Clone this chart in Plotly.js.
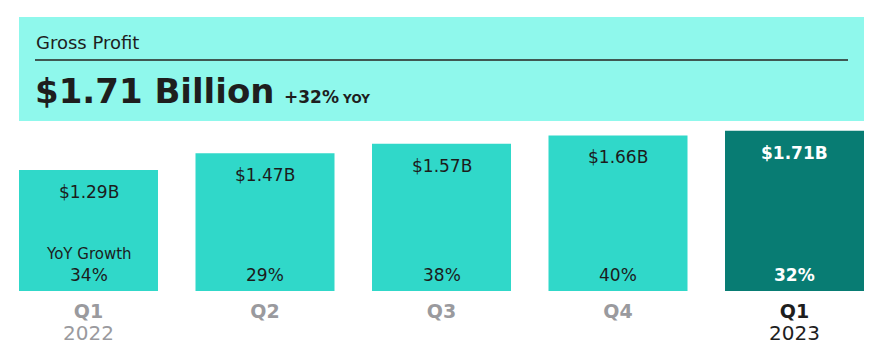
<!DOCTYPE html>
<html>
<head>
<meta charset="utf-8">
<script src="https://cdn.plot.ly/plotly-3.0.1.min.js"></script>
<style>html,body{margin:0;padding:0;background:#fff;}#chart{width:880px;height:362px;}</style>
</head>
<body>
<div id="chart"></div>
<script>
// ---- data ----
var categories = ["Q1 2022", "Q2 2022", "Q3 2022", "Q4 2022", "Q1 2023"];
var quarterLabels = ["Q1", "Q2", "Q3", "Q4", "Q1"];
var yearLabels = ["2022", "", "", "", "2023"];
var grossProfit = [1.29, 1.47, 1.57, 1.66, 1.71];   // $ billions
var yoyGrowth = [34, 29, 38, 40, 32];               // %
var headerTitle = "Gross Profit";
var growthLabel = "YoY Growth";

// ---- layout helpers (pixel -> paper) ----
var W = 880, H = 362;
var mL = 19, mR = 16, mT = 127, mB = 71;
var plotW = W - mL - mR, plotH = H - mT - mB;
function px(x) { return (x - mL) / plotW; }
function py(y) { return (H - mB - y) / plotH; }

var last = grossProfit.length - 1;
var light = "#30D8C9", dark = "#087C73";
var font = "DejaVu Sans, Verdana, sans-serif";

var colors = grossProfit.map(function (v, i) { return i === last ? dark : light; });

var trace = {
  type: "bar",
  x: categories,
  y: grossProfit,
  marker: { color: colors, line: { width: 0 } },
  hoverinfo: "skip"
};

var ticktext = categories.map(function (c, i) {
  var col = i === last ? "#1e1e1e" : "#9a9a9e";
  var t = "<span style='color:" + col + "'><b><span style='font-size:19px'>" + quarterLabels[i] + "</span></b>";
  if (yearLabels[i]) t += "<br><span style='font-size:20px'>" + yearLabels[i] + "</span>";
  return t + "</span>";
});

var annotations = [];
grossProfit.forEach(function (v, i) {
  var isLast = i === last;
  annotations.push({
    xref: "x", yref: "y", x: categories[i], y: v,
    text: isLast ? "<b>$" + v.toFixed(2) + "B</b>" : "$" + v.toFixed(2) + "B",
    showarrow: false, yanchor: "middle", yshift: -22,
    font: { family: font, size: 17, color: isLast ? "#ffffff" : "#1c1c1c" }
  });
  annotations.push({
    xref: "x", yref: "y", x: categories[i], y: 0,
    text: isLast ? "<b>" + yoyGrowth[i] + "%</b>" : yoyGrowth[i] + "%",
    showarrow: false, yanchor: "middle", yshift: 16,
    font: { family: font, size: 17, color: isLast ? "#ffffff" : "#1c1c1c" }
  });
});
annotations.push({
  xref: "x", yref: "y", x: categories[0], y: 0,
  text: growthLabel, showarrow: false, yanchor: "middle", yshift: 37,
  font: { family: font, size: 15, color: "#1c1c1c" }
});
// header texts
annotations.push({
  xref: "paper", yref: "paper", x: px(34), y: py(42.5),
  xanchor: "left", yanchor: "middle", showarrow: false,
  text: headerTitle,
  font: { family: font, size: 18, color: "#1e1e1e" }
});
annotations.push({
  xref: "paper", yref: "paper", x: px(33), y: py(91),
  xanchor: "left", yanchor: "middle", showarrow: false,
  text: "<b>$" + grossProfit[last].toFixed(2) + " Billion</b>",
  font: { family: font, size: 34, color: "#1e1e1e" }
});
annotations.push({
  xref: "paper", yref: "paper", x: px(282), y: py(97),
  xanchor: "left", yanchor: "middle", showarrow: false,
  text: "<b>+" + yoyGrowth[last] + "%</b><span style='font-size:12px'><b> YOY</b></span>",
  font: { family: font, size: 17, color: "#1e1e1e" }
});

var shapes = [
  { type: "rect", xref: "paper", yref: "paper", x0: px(19), x1: px(864), y0: py(121), y1: py(17),
    fillcolor: "#8FF8EC", line: { width: 0 }, layer: "below" },
  { type: "line", xref: "paper", yref: "paper", x0: px(35), x1: px(848), y0: py(60), y1: py(60),
    line: { color: "#3F5853", width: 2 } }
];

var layout = {
  width: W, height: H,
  margin: { l: mL, r: mR, t: mT, b: mB, pad: 0 },
  paper_bgcolor: "#ffffff", plot_bgcolor: "#ffffff",
  showlegend: false,
  bargap: 0.2125,
  xaxis: {
    type: "category",
    range: [-0.39375, 4.39375],
    tickvals: categories, ticktext: ticktext,
    tickfont: { family: font, size: 17, color: "#9a9a9e" },
    showgrid: false, zeroline: false, showline: false, ticks: "",
    ticklabelstandoff: 9, fixedrange: true
  },
  yaxis: {
    range: [0, 1.75], visible: false, showgrid: false, zeroline: false, fixedrange: true
  },
  shapes: shapes,
  annotations: annotations
};

Plotly.newPlot("chart", [trace], layout, { displayModeBar: false, staticPlot: true });
</script>
</body>
</html>
